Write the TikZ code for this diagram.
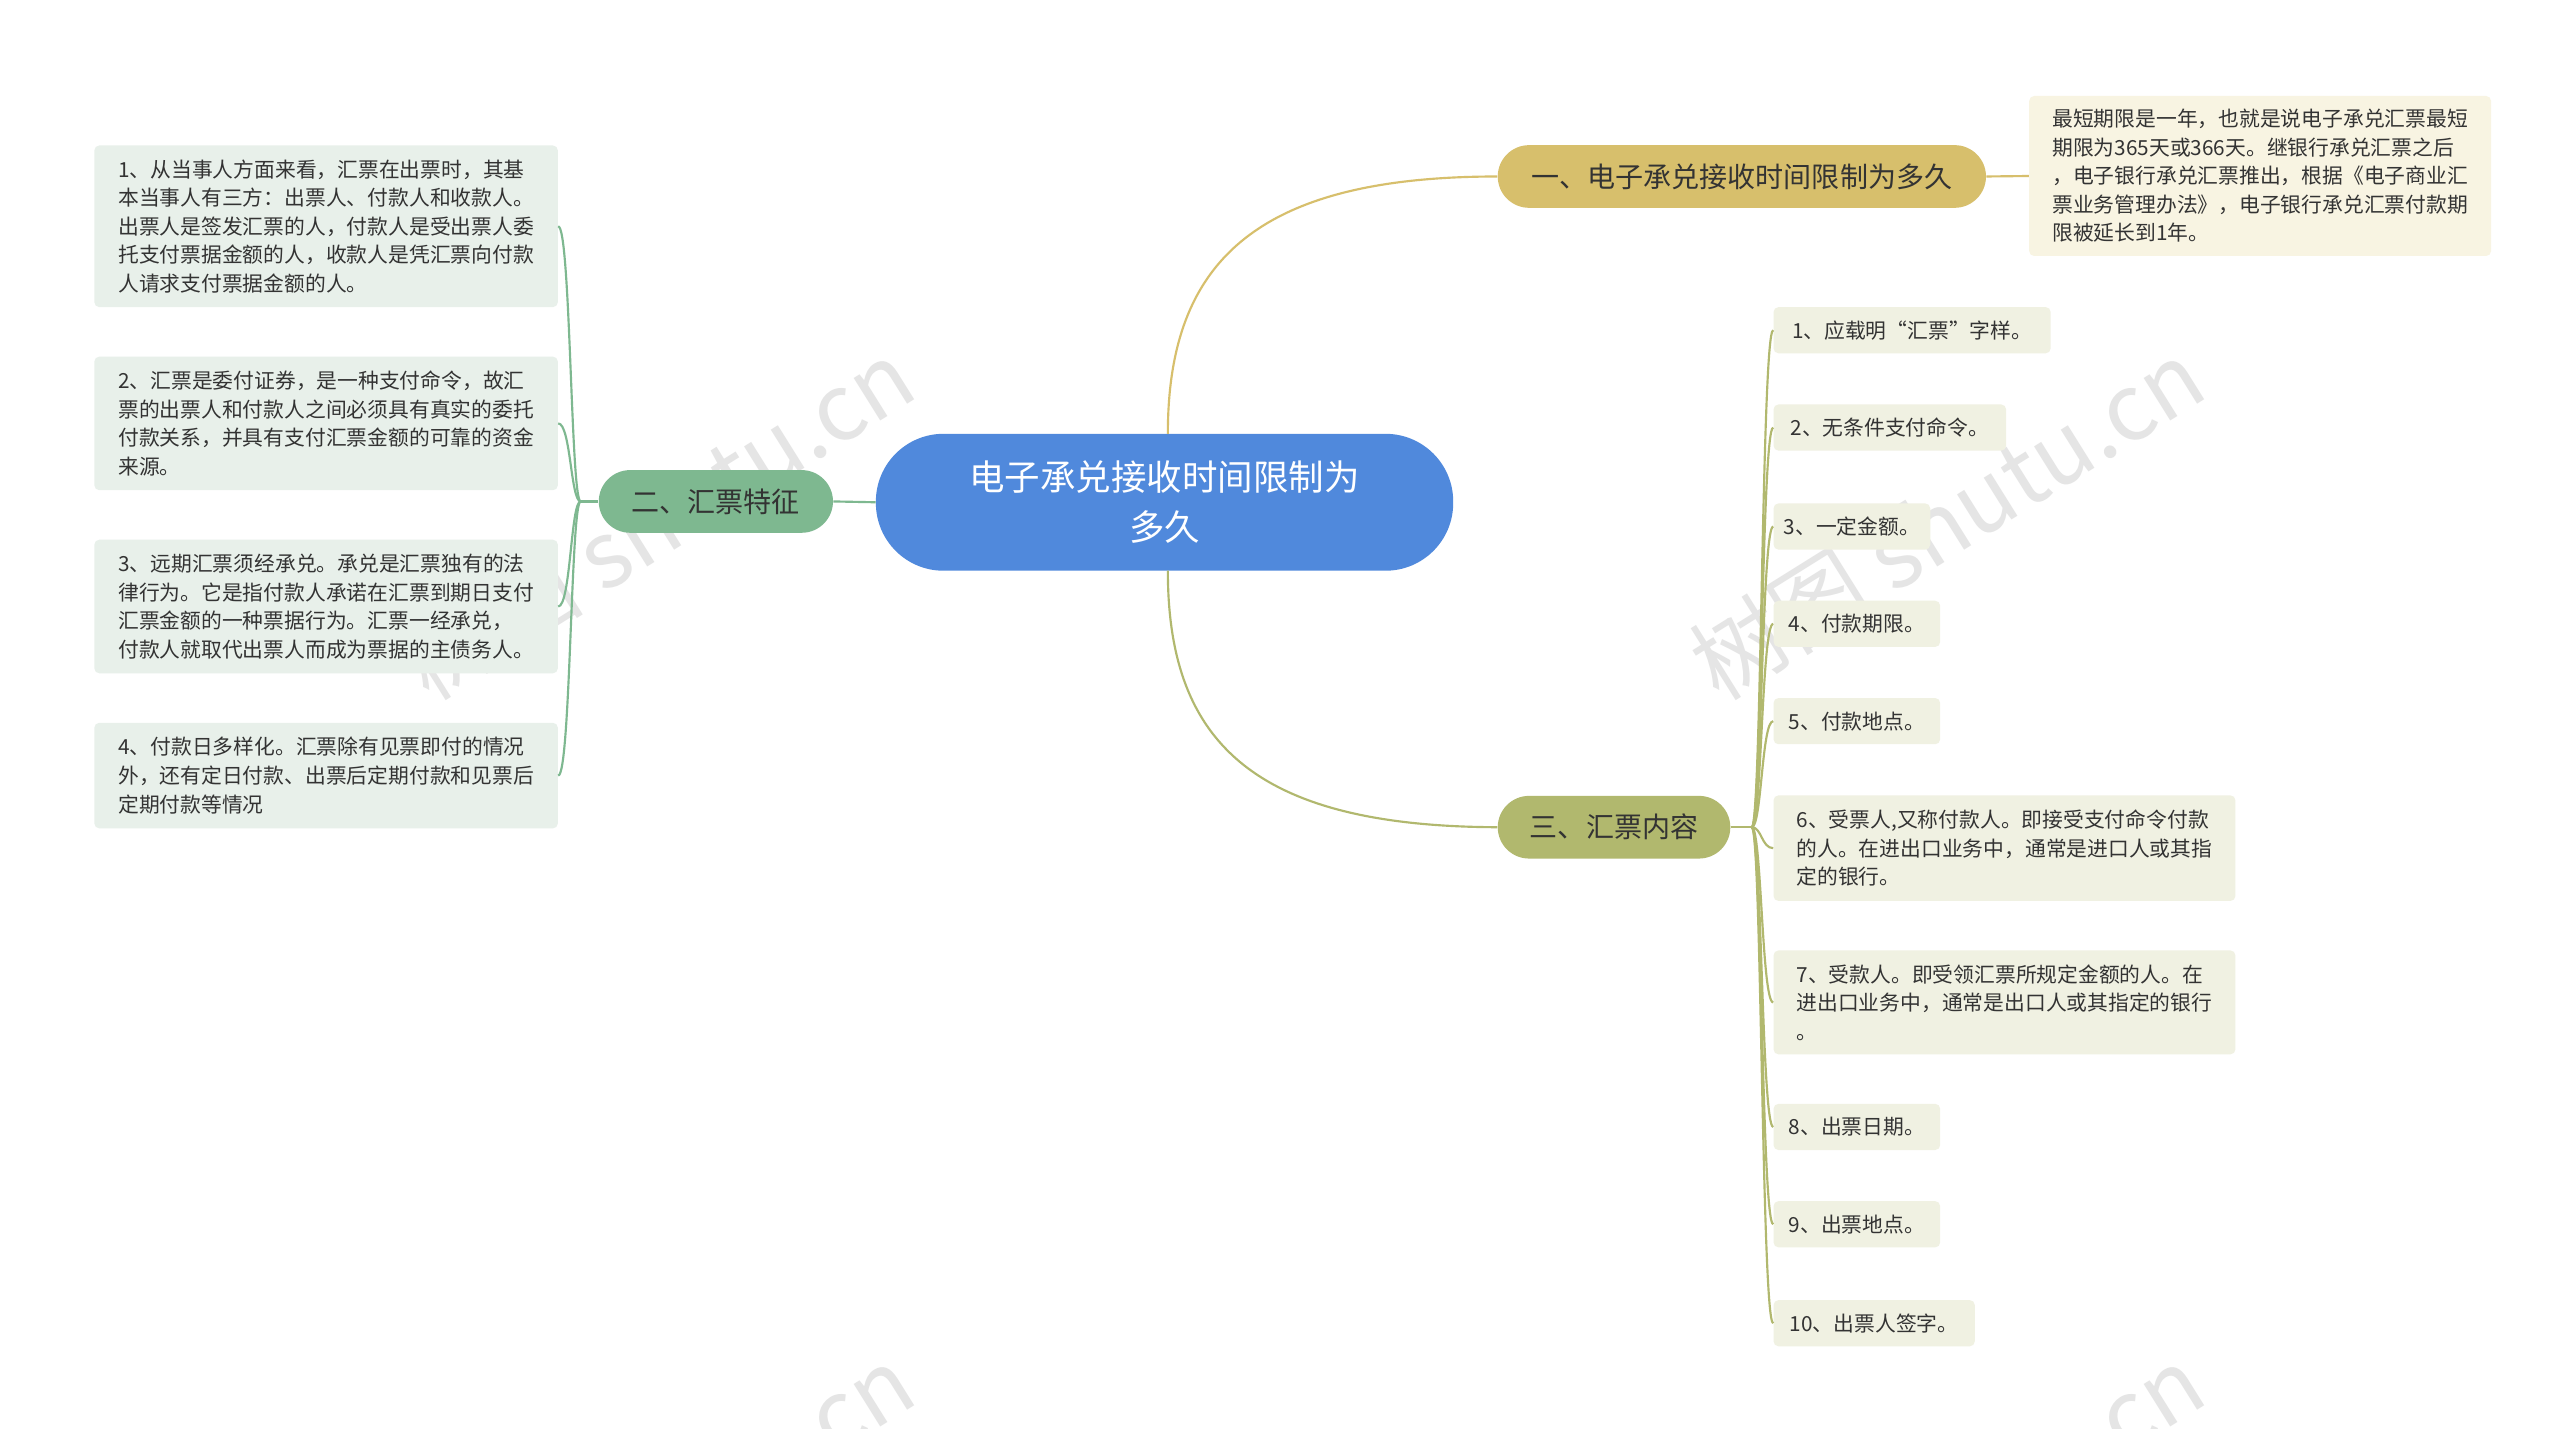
\documentclass[tikz,border=0pt]{standalone}
\usepackage{fontspec}
\setmainfont{Noto Sans CJK SC}
\begin{document}
\begin{tikzpicture}[x=1pt,y=-1pt,
 leafL/.style={draw=none,fill=lfill,rounded corners=3,anchor=north west,inner xsep=6,inner ysep=6,align=left,font=\fontsize{12.6}{17.3}\selectfont,text=txt},
 br/.style={rounded corners=19,minimum height=38,inner xsep=14,font=\fontsize{17}{20}\selectfont,text=txt},
 wm/.style={text=black!10,font=\fontsize{56}{60}\selectfont,rotate=32}]
\definecolor{txt}{HTML}{333333}
\definecolor{lfill}{HTML}{E8F0EA}
\definecolor{gfill}{HTML}{F0F1E2}
\definecolor{yfill}{HTML}{F8F4E2}
\definecolor{cblue}{HTML}{5089DC}
\definecolor{cgold}{HTML}{D7BF6C}
\definecolor{cgreen}{HTML}{7EB890}
\definecolor{colive}{HTML}{B1B86E}
\useasboundingbox (0,0) rectangle (1552,866);
\fill[white] (0,0) rectangle (1552,866);
% watermarks (behind)
\begin{scope}
\clip (0,0) rectangle (1552,866);
\node[wm] (w1) at (398,315) {树图 shutu.cn};
\node[wm] (w2) at (1180,315) {树图 shutu.cn};
\node[wm] (w3) at (398,925) {树图 shutu.cn};
\node[wm] (w4) at (1180,925) {树图 shutu.cn};
\end{scope}
% center
\node[fill=cblue,rounded corners=41,minimum width=350,minimum height=83,text=white,align=center,font=\fontsize{21.5}{30}\selectfont] (c) at (706,304.5) {电子承兑接收时间限制为\\多久};
% branches
\node[br,fill=cgold,minimum width=296] (b1) at (1056,107) {一、电子承兑接收时间限制为多久};
\node[br,fill=cgreen,minimum width=142] (b2) at (434,304) {二、汇票特征};
\node[br,fill=colive,minimum width=141] (b3) at (978.5,501.5) {三、汇票内容};
\draw[cgold,line width=1.3] (708,263) .. controls (708,160) and (760,107) .. (b1.west);
\draw[colive,line width=1.3] (708,346) .. controls (708,450) and (760,501) .. (b3.west);
\draw[cgreen,line width=1.3] (c.west) -- (b2.east);
% leaf of b1
\node[leafL,fill=yfill,minimum width=280,minimum height=97] (r0) at (1230,58) {最短期限是一年，也就是说电子承兑汇票最短\\期限为365天或366天。继银行承兑汇票之后\\，电子银行承兑汇票推出，根据《电子商业汇\\票业务管理办法》，电子银行承兑汇票付款期\\限被延长到1年。};
\draw[cgold,line width=1.3] (b1.east) -- (r0.west);
% left leaves
\node[leafL,minimum width=281,minimum height=98] (l1) at (57,88) {1、从当事人方面来看，汇票在出票时，其基\\本当事人有三方：出票人、付款人和收款人。\\出票人是签发汇票的人，付款人是受出票人委\\托支付票据金额的人，收款人是凭汇票向付款\\人请求支付票据金额的人。};
\node[leafL,minimum width=281,minimum height=81] (l2) at (57,216) {2、汇票是委付证券，是一种支付命令，故汇\\票的出票人和付款人之间必须具有真实的委托\\付款关系，并具有支付汇票金额的可靠的资金\\来源。};
\node[leafL,minimum width=281,minimum height=81] (l3) at (57,327) {3、远期汇票须经承兑。承兑是汇票独有的法\\律行为。它是指付款人承诺在汇票到期日支付\\汇票金额的一种票据行为。汇票一经承兑，\\付款人就取代出票人而成为票据的主债务人。};
\node[leafL,minimum width=281,minimum height=64] (l4) at (57,438) {4、付款日多样化。汇票除有见票即付的情况\\外，还有定日付款、出票后定期付款和见票后\\定期付款等情况};
\coordinate (bl) at (352,304);
\draw[cgreen,line width=1.3] (b2.west) -- (bl);
\foreach \n in {l1,l2,l3,l4}
 \draw[cgreen,line width=1.3] (bl) .. controls (346,304) and (346,0|-\n.east) .. (\n.east);
% right leaves
\node[leafL,fill=gfill,minimum width=168,minimum height=28] (g1) at (1075,186) {1、应载明“汇票”字样。};
\node[leafL,fill=gfill,minimum width=141,minimum height=28] (g2) at (1075,245) {2、无条件支付命令。};
\node[leafL,fill=gfill,minimum width=95,minimum height=28] (g3) at (1075,305) {3、一定金额。};
\node[leafL,fill=gfill,minimum width=101,minimum height=28] (g4) at (1075,364) {4、付款期限。};
\node[leafL,fill=gfill,minimum width=101,minimum height=28] (g5) at (1075,423) {5、付款地点。};
\node[leafL,fill=gfill,minimum width=280,minimum height=64] (g6) at (1075,482) {6、受票人,又称付款人。即接受支付命令付款\\的人。在进出口业务中，通常是进口人或其指\\定的银行。};
\node[leafL,fill=gfill,minimum width=280,minimum height=63] (g7) at (1075,576) {7、受款人。即受领汇票所规定金额的人。在\\进出口业务中，通常是出口人或其指定的银行\\。};
\node[leafL,fill=gfill,minimum width=101,minimum height=28] (g8) at (1075,669) {8、出票日期。};
\node[leafL,fill=gfill,minimum width=101,minimum height=28] (g9) at (1075,728) {9、出票地点。};
\node[leafL,fill=gfill,minimum width=122,minimum height=28] (g10) at (1075,788) {10、出票人签字。};
\coordinate (br3) at (1062,501.5);
\draw[colive,line width=1.3] (b3.east) -- (br3);
\foreach \n in {g1,g2,g3,g4,g5,g6,g7,g8,g9,g10}
 \draw[colive,line width=1.3] (br3) .. controls (1068,501.5) and (1068,0|-\n.west) .. (\n.west);
\end{tikzpicture}
\end{document}
